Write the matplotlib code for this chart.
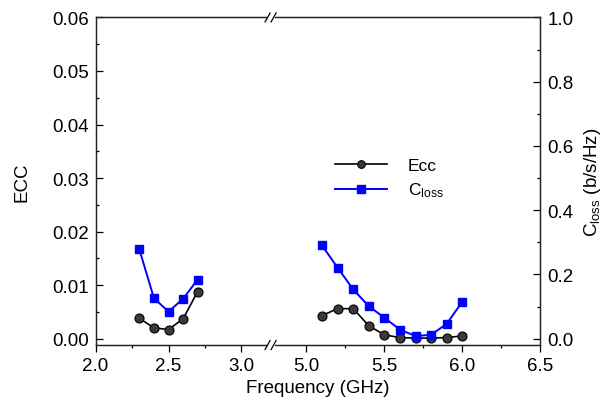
import numpy as np
import matplotlib
matplotlib.use('Agg')
from matplotlib import pyplot as plt
from matplotlib.lines import Line2D
from matplotlib.patches import Rectangle
from matplotlib.transforms import IdentityTransform

plt.rcParams['font.family'] = ['Liberation Sans', 'DejaVu Sans']
plt.rcParams['mathtext.fontset'] = 'custom'
plt.rcParams['mathtext.rm'] = 'Liberation Sans'
plt.rcParams['mathtext.it'] = 'Liberation Sans:italic'

# data
freq_low = [2.3, 2.4, 2.5, 2.6, 2.7]
ecc_low = [0.0038, 0.0020, 0.0017, 0.0037, 0.0088]
closs_low = [0.278, 0.126, 0.084, 0.124, 0.184]

freq_high = [5.1, 5.2, 5.3, 5.4, 5.5, 5.6, 5.7, 5.8, 5.9, 6.0]
ecc_high = [0.0043, 0.0056, 0.0056, 0.0024, 0.0007, 0.0002, 0.0001, 0.0001, 0.0002, 0.0005]
closs_high = [0.290, 0.221, 0.153, 0.101, 0.065, 0.028, 0.008, 0.012, 0.046, 0.115]

x_major = [2.0, 2.5, 3.0, 5.0, 5.5, 6.0, 6.5]
x_minor = [2.25, 2.75, 5.25, 5.75, 6.25]

# broken x axis: 2.0-3.2 and 4.77-6.5
break_lo, break_hi = 3.2, 4.77
k_lo, k_hi, k_gap = 145.0, 155.0, 0.01


def fwd(x):
    x = np.asarray(x, dtype=float)
    a = (np.minimum(x, break_lo) - 2.0) * k_lo
    g = (np.clip(x, break_lo, break_hi) - break_lo) * k_gap
    b = (np.maximum(x, break_hi) - break_hi) * k_hi
    return a + g + b


def inv(y):
    y = np.asarray(y, dtype=float)
    y1 = (break_lo - 2.0) * k_lo
    y2 = y1 + (break_hi - break_lo) * k_gap
    return np.where(y <= y1, 2.0 + y / k_lo,
                    np.where(y <= y2, break_lo + (y - y1) / k_gap,
                             break_hi + (y - y2) / k_hi))


fig = plt.figure(figsize=(6.05, 4.1), dpi=100)
ax = fig.add_axes([0.158, 0.156, 0.735, 0.799])
ax.set_xscale('function', functions=(fwd, inv))
ax.set_xlim(2.0, 6.5)
ax2 = ax.twinx()

blue = '#0000ff'
ecc_style = dict(color='black', lw=1.2, marker='o', ms=6.5,
                 mfc='#3a3a3a', mec='black', mew=0.8)
closs_style = dict(color=blue, lw=1.4, marker='s', ms=6, mfc=blue, mec=blue)

h_ecc, = ax.plot(freq_low, ecc_low, **ecc_style, label='Ecc')
ax.plot(freq_high, ecc_high, **ecc_style)
h_closs, = ax2.plot(freq_low, closs_low, **closs_style, label='C$_{\\rm loss}$')
ax2.plot(freq_high, closs_high, **closs_style)

fs = 13.5
ax.set_xticks(x_major, labels=['%.1f' % v for v in x_major])
ax.set_xticks(x_minor, minor=True)
ax.set_ylim(-0.0012, 0.06)
ecc_ticks = np.arange(0, 0.061, 0.01)
ax.set_yticks(ecc_ticks, labels=['%.2f' % v for v in ecc_ticks])
ax.set_yticks(np.arange(0.005, 0.06, 0.01), minor=True)
ax2.set_ylim(-0.02, 1.0)
cl_ticks = np.arange(0, 1.01, 0.2)
ax2.set_yticks(cl_ticks, labels=['%.1f' % v for v in cl_ticks])
ax2.set_yticks(np.arange(0.1, 1.0, 0.2), minor=True)

ax.tick_params(axis='y', which='both', direction='in', labelsize=fs, pad=5)
ax.tick_params(axis='y', which='major', length=5, width=0.9)
ax.tick_params(axis='y', which='minor', length=2.5, width=0.9)
ax.tick_params(axis='x', which='both', direction='out', labelsize=fs)
ax.tick_params(axis='x', which='major', length=5, width=0.9)
ax.tick_params(axis='x', which='minor', length=2.5, width=0.9)
ax2.tick_params(axis='y', which='both', direction='in', labelsize=fs, pad=5)
ax2.tick_params(axis='y', which='major', length=5, width=0.9)
ax2.tick_params(axis='y', which='minor', length=2.5, width=0.9)
for a in (ax, ax2):
    for s in a.spines.values():
        s.set_linewidth(0.9)
        s.set_color('#222222')

ax.set_xlabel('Frequency (GHz)', fontsize=fs)
ax.set_ylabel('ECC', fontsize=fs)
ax.yaxis.set_label_coords(-0.146, 0.5)
ax2.set_ylabel('C$_{\\rm loss}$ (b/s/Hz)', fontsize=fs)
ax2.yaxis.set_label_coords(1.093, 0.5)

ax2.legend([h_ecc, h_closs], ['Ecc', 'C$_{\\rm loss}$'], loc='upper left',
           bbox_to_anchor=(326 / 605, 1 - 150 / 410), bbox_transform=fig.transFigure,
           frameon=False, borderpad=0, handlelength=3.0, handletextpad=1.2,
           labelspacing=0.45, fontsize=12.5, markerscale=0.85)

# break marks on top and bottom spines
bx = ax.transData.transform((break_lo, 0))[0]
for yfrac in (0, 1):
    by = ax.transAxes.transform((0, yfrac))[1]
    fig.add_artist(Rectangle((bx - 4, by - 2), 8, 4, facecolor='white', edgecolor='none',
                             transform=IdentityTransform(), zorder=10))
    for dx in (-3, 3):
        fig.add_artist(Line2D([bx + dx - 2.5, bx + dx + 2.5], [by - 4.5, by + 4.5],
                              color='black', lw=0.9, transform=IdentityTransform(), zorder=11))

fig.savefig('out.png', dpi=100)
plt.close(fig)
